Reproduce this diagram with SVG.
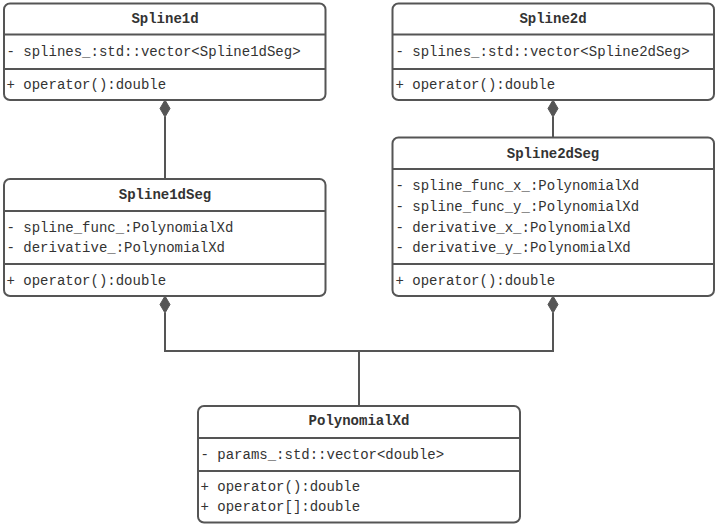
<svg xmlns="http://www.w3.org/2000/svg" width="720" height="526" viewBox="0 0 720 526">
<defs>
<style>
.box{fill:#fff;stroke:#555;stroke-width:2}
.div{stroke:#555;stroke-width:2}
.t{font-family:"Liberation Mono","DejaVu Sans Mono",monospace;font-size:14px;fill:#333}
.h{font-weight:bold;text-anchor:middle}
.c{fill:none;stroke:#555;stroke-width:2}
.d{fill:#555;stroke:#555;stroke-width:1}
</style>
</defs>
<rect width="720" height="526" fill="#fff"/>
<g id="connectors">
<path class="c" d="M165 117V179"/>
<path class="d" d="M165 100L170 108.5L165 117L160 108.5Z"/>
<path class="c" d="M553 117V137"/>
<path class="d" d="M553 100L558 108.5L553 117L548 108.5Z"/>
<path class="c" d="M165 313V351H553V313"/>
<path class="d" d="M165 296L170 304.5L165 313L160 304.5Z"/>
<path class="d" d="M553 296L558 304.5L553 313L548 304.5Z"/>
<path class="c" d="M359 351V406"/>
</g>
<g id="Spline1d">
<rect class="box" x="4" y="3.5" width="321.5" height="96.5" rx="6"/>
<line class="div" x1="4" y1="34.5" x2="325.5" y2="34.5"/>
<line class="div" x1="4" y1="69" x2="325.5" y2="69"/>
<text class="t h" x="165" y="23">Spline1d</text>
<text class="t" x="6.5" y="56">- splines_:std::vector&lt;Spline1dSeg&gt;</text>
<text class="t" x="6.5" y="89">+ operator():double</text>
</g>
<g id="Spline2d">
<rect class="box" x="392.5" y="3.5" width="321.5" height="96.5" rx="6"/>
<line class="div" x1="392.5" y1="34.5" x2="714" y2="34.5"/>
<line class="div" x1="392.5" y1="69" x2="714" y2="69"/>
<text class="t h" x="553" y="23">Spline2d</text>
<text class="t" x="395.5" y="56">- splines_:std::vector&lt;Spline2dSeg&gt;</text>
<text class="t" x="395.5" y="89">+ operator():double</text>
</g>
<g id="Spline1dSeg">
<rect class="box" x="4" y="179" width="321.5" height="117" rx="6"/>
<line class="div" x1="4" y1="211" x2="325.5" y2="211"/>
<line class="div" x1="4" y1="264" x2="325.5" y2="264"/>
<text class="t h" x="165" y="199">Spline1dSeg</text>
<text class="t" x="6.5" y="231.5">- spline_func_:PolynomialXd</text>
<text class="t" x="6.5" y="251.5">- derivative_:PolynomialXd</text>
<text class="t" x="6.5" y="284.5">+ operator():double</text>
</g>
<g id="Spline2dSeg">
<rect class="box" x="392.5" y="137.5" width="321.5" height="158.5" rx="6"/>
<line class="div" x1="392.5" y1="169" x2="714" y2="169"/>
<line class="div" x1="392.5" y1="264" x2="714" y2="264"/>
<text class="t h" x="553" y="158">Spline2dSeg</text>
<text class="t" x="395.5" y="190">- spline_func_x_:PolynomialXd</text>
<text class="t" x="395.5" y="210.5">- spline_func_y_:PolynomialXd</text>
<text class="t" x="395.5" y="231.5">- derivative_x_:PolynomialXd</text>
<text class="t" x="395.5" y="251.5">- derivative_y_:PolynomialXd</text>
<text class="t" x="395.5" y="284.5">+ operator():double</text>
</g>
<g id="PolynomialXd">
<rect class="box" x="198" y="406" width="322" height="116.5" rx="6"/>
<line class="div" x1="198" y1="438" x2="520" y2="438"/>
<line class="div" x1="198" y1="471" x2="520" y2="471"/>
<text class="t h" x="359" y="425">PolynomialXd</text>
<text class="t" x="200.5" y="459">- params_:std::vector&lt;double&gt;</text>
<text class="t" x="200.5" y="491">+ operator():double</text>
<text class="t" x="200.5" y="511">+ operator[]:double</text>
</g>
</svg>
